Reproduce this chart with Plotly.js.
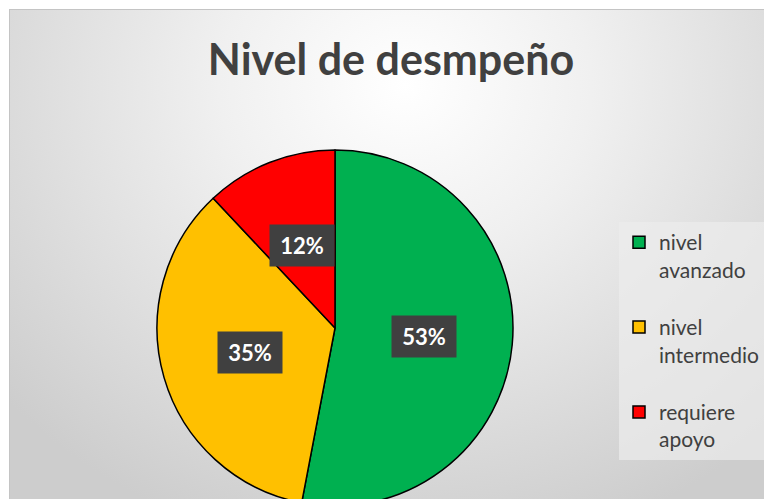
<!DOCTYPE html>
<html><head><meta charset="utf-8">
<script src="https://cdn.plot.ly/plotly-3.0.1.min.js"></script>
<style>
html,body{margin:0;padding:0;width:764px;height:499px;overflow:hidden;background:#fff;}
#bg{position:absolute;left:9px;top:9px;width:760px;height:500px;border-top:1px solid #c4c4c4;border-left:1px solid #c4c4c4;background:radial-gradient(ellipse 70% 95% at 52% 15%, #ffffff 0%, #f0f0f0 35%, #cdcdcd 100%);}
#chart{position:absolute;left:0;top:0;}
</style></head><body>
<div id="bg"></div><div id="chart"></div>
<script>
const categories = ["nivel avanzado", "nivel intermedio", "requiere apoyo"];
const values = [53, 35, 12];
const colors = ["#00B050", "#FFC000", "#FF0000"];
const chartTitle = "Nivel de desmpeño";

const W = 820, H = 506;               // drawn slightly larger than the window; overflow is clipped
const CX = 335, CY = 328, R = 178;   // pie centre / radius in px (layout)
const FONT = "Lato, 'Open Sans', sans-serif";

const legendNames = categories.map((c, k) => {
  const i = c.indexOf(" ");
  const a = c.slice(0, i), b = c.slice(i + 1);
  let s = '<span style="font-size:21px">' + a + '</span><br><span style="font-size:21px">' + b + '</span>';
  if (k < categories.length - 1) s += '<br> ';
  return s;
});

const total = values.reduce((s, v) => s + v, 0);
const annotations = [];
let cum = 0;
values.forEach((v, i) => {
  const mid = (cum + v / 2) / total * 2 * Math.PI;
  cum += v;
  const px = CX + 0.5 * R * Math.sin(mid);
  const py = CY - 0.5 * R * Math.cos(mid);
  annotations.push({
    xref: "paper", yref: "paper",
    x: px / W, y: 1 - py / H,
    xanchor: "center", yanchor: "middle",
    text: "<b>" + Math.round(v / total * 100) + "%</b>",
    showarrow: false,
    font: {family: FONT, size: 22, color: "#ffffff"},
    bgcolor: "#404040",
    width: 52, height: 29, borderpad: 6
  });
});

const trace = {
  type: "pie",
  labels: legendNames,
  values: values,
  sort: false,
  direction: "clockwise",
  rotation: 0,
  textinfo: "none",
  hoverinfo: "none",
  marker: {colors: colors, line: {color: "#000000", width: 1.5}},
  domain: {x: [(CX - R) / W, (CX + R) / W], y: [1 - (CY + R) / H, 1 - (CY - R) / H]}
};

const layout = {
  width: W, height: H,
  margin: {l: 0, r: 0, t: 0, b: 0},
  paper_bgcolor: "rgba(0,0,0,0)",
  plot_bgcolor: "rgba(0,0,0,0)",
  title: {
    text: "<b>" + chartTitle + "</b>",
    x: 391 / W, xanchor: "center",
    y: 1 - 60 / H, yanchor: "middle",
    font: {family: FONT, size: 43, color: "#404040"}
  },
  showlegend: true,
  legend: {
    x: 619 / W, xanchor: "left",
    y: 1 - 222 / H, yanchor: "top",
    bgcolor: "rgba(236,236,236,0.7)",
    borderwidth: 0,
    valign: "top",
    font: {family: FONT, size: 21, color: "#404040"}
  },
  annotations: annotations
};

Plotly.newPlot("chart", [trace], layout, {displayModeBar: false, staticPlot: true});
</script>
</body></html>
